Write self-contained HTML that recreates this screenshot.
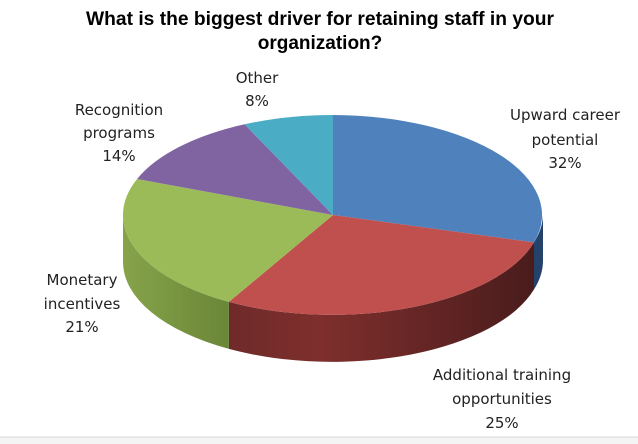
<!DOCTYPE html>
<html><head><meta charset="utf-8"><style>
html,body{margin:0;padding:0;background:#fff;}
svg{display:block;}
.t{font-family:"Liberation Sans Narrow","Liberation Sans",sans-serif;font-weight:bold;font-size:19px;fill:#000;}
.l{font-family:"DejaVu Sans","Liberation Sans",sans-serif;font-size:15px;fill:#222;}
</style></head><body>
<svg width="638" height="444" viewBox="0 0 638 444" xmlns="http://www.w3.org/2000/svg">
<defs>
<linearGradient id="gr" x1="0" x2="1" y1="0" y2="0"><stop offset="0" stop-color="#6e2a29"/><stop offset="0.3" stop-color="#7e2f2d"/><stop offset="1" stop-color="#4a1c1c"/></linearGradient>
<linearGradient id="gg" x1="0" x2="1" y1="0" y2="0"><stop offset="0" stop-color="#86a34a"/><stop offset="1" stop-color="#6a8638"/></linearGradient>
</defs>
<path d="M543,215 A210,100 0 0 1 534,242.4 L534,289.4 A210,100 0 0 0 543,262 Z" fill="#24426a"/>
<path d="M534,242.4 A210,100 0 0 1 228.9,301.9 L228.9,348.9 A210,100 0 0 0 534,289.4 Z" fill="url(#gr)"/>
<path d="M228.9,301.9 A210,100 0 0 1 123,215 L123,262 A210,100 0 0 0 228.9,348.9 Z" fill="url(#gg)"/>
<path d="M333,215 L333,115 A210,100 0 0 1 534,242.4 Z" fill="#4f81bd"/>
<path d="M333,215 L534,242.4 A210,100 0 0 1 228.9,301.9 Z" fill="#c0504d"/>
<path d="M333,215 L228.9,301.9 A210,100 0 0 1 137.1,179 Z" fill="#9bbb59"/>
<path d="M333,215 L137.1,179 A210,100 0 0 1 244.6,124.3 Z" fill="#8064a2"/>
<path d="M333,215 L244.6,124.3 A210,100 0 0 1 333,115 Z" fill="#4bacc6"/>
<rect x="0" y="437" width="638" height="7" fill="#f4f4f4"/>
<line x1="0" y1="437" x2="638" y2="437" stroke="#d8d8d8"/>
<text class="t" x="320" y="25" text-anchor="middle" textLength="468" lengthAdjust="spacingAndGlyphs">What is the biggest driver for retaining staff in your</text>
<text class="t" x="320" y="49" text-anchor="middle">organization?</text>
<g class="l" text-anchor="middle">
<text x="565" y="120">Upward career</text><text x="565" y="145">potential</text><text x="565" y="168">32%</text>
<text x="502" y="380">Additional training</text><text x="502" y="404">opportunities</text><text x="502" y="428">25%</text>
<text x="82" y="285">Monetary</text><text x="82" y="309">incentives</text><text x="82" y="332">21%</text>
<text x="119" y="115">Recognition</text><text x="119" y="138">programs</text><text x="119" y="161">14%</text>
<text x="257" y="83">Other</text><text x="257" y="106">8%</text>
</g>
</svg>
</body></html>
